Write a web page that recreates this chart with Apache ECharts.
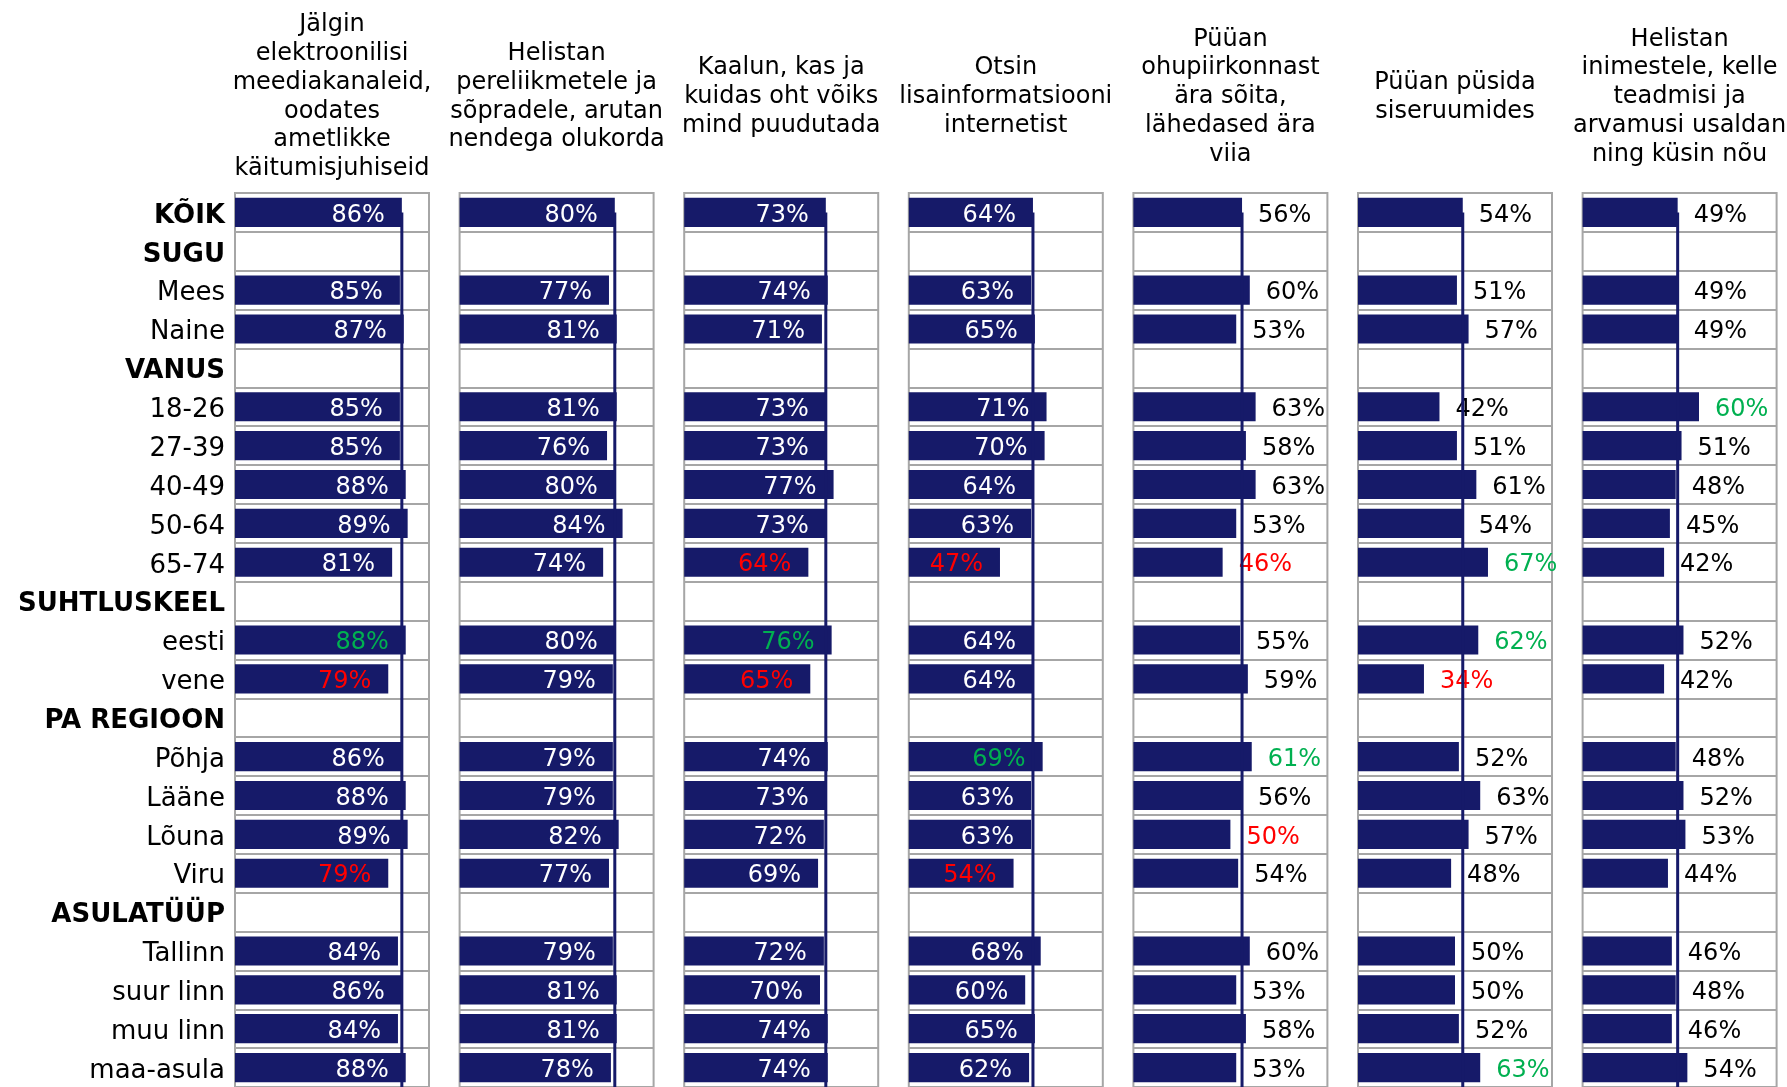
<!DOCTYPE html>
<html>
<head>
<meta charset="utf-8">
<script src="https://cdn.jsdelivr.net/npm/echarts@6/dist/echarts.min.js"></script>
<style>
html,body{margin:0;padding:0;background:#fff;}
#chart{width:1787px;height:1087px;}
</style>
</head>
<body>
<div id="chart"></div>
<script>
const rows = ['KÕIK','SUGU','Mees','Naine','VANUS','18-26','27-39','40-49','50-64','65-74','SUHTLUSKEEL','eesti','vene','PA REGIOON','Põhja','Lääne','Lõuna','Viru','ASULATÜÜP','Tallinn','suur linn','muu linn','maa-asula'];
const groupRows = ['KÕIK','SUGU','VANUS','SUHTLUSKEEL','PA REGIOON','ASULATÜÜP'];

const headers = [
  'Jälgin\nelektroonilisi\nmeediakanaleid,\noodates\nametlikke\nkäitumisjuhiseid',
  'Helistan\npereliikmetele ja\nsõpradele, arutan\nnendega olukorda',
  'Kaalun, kas ja\nkuidas oht võiks\nmind puudutada',
  'Otsin\nlisainformatsiooni\ninternetist',
  'Püüan\nohupiirkonnast\nära sõita,\nlähedased ära\nviia',
  'Püüan püsida\nsiseruumides',
  'Helistan\ninimestele, kelle\nteadmisi ja\narvamusi usaldan\nning küsin nõu'
];

const p1 = [86,null,85,87,null,85,85,88,89,81,null,88,79,null,86,88,89,79,null,84,86,84,88];
const p2 = [80,null,77,81,null,81,76,80,84,74,null,80,79,null,79,79,82,77,null,79,81,81,78];
const p3 = [73,null,74,71,null,73,73,77,73,64,null,76,65,null,74,73,72,69,null,72,70,74,74];
const p4 = [64,null,63,65,null,71,70,64,63,47,null,64,64,null,69,63,63,54,null,68,60,65,62];
const p5 = [56,null,60,53,null,63,58,63,53,46,null,55,59,null,61,56,50,54,null,60,53,58,53];
const p6 = [54,null,51,57,null,42,51,61,54,67,null,62,34,null,52,63,57,48,null,50,50,52,63];
const p7 = [49,null,49,49,null,60,51,48,45,42,null,52,42,null,48,52,53,44,null,46,48,46,54];

const higher = [['eesti'], [], ['eesti'], ['Põhja'], ['Põhja'], ['65-74','eesti','maa-asula'], ['18-26']];
const lower  = [['vene','Viru'], [], ['65-74','vene'], ['65-74','Viru'], ['65-74','Lõuna'], ['vene'], []];

const panels = [p1,p2,p3,p4,p5,p6,p7];
const labelInside = [true,true,true,true,false,false,false];

const NAVY = '#161A69';
const GRID = '#A6A6A6';
const FONT = 'DejaVu Sans';

const chart = echarts.init(document.getElementById('chart'));

const L0 = 235, STEP = 224.6, W = 194, TOP = 193, ROWH = 39;
const grids = [], xAxes = [], yAxes = [], series = [], graphics = [];

panels.forEach((vals, i) => {
  const left = L0 + STEP * i;
  grids.push({left: left, top: TOP, width: W, height: ROWH * rows.length, show: true,
    borderColor: GRID, borderWidth: 2, backgroundColor: '#fff', containLabel: false});
  xAxes.push({type: 'value', gridIndex: i, min: 0, max: 100, show: false});
  yAxes.push({type: 'category', gridIndex: i, data: rows, inverse: true,
    axisLine: {show: false}, axisTick: {show: false},
    splitLine: {show: true, lineStyle: {color: GRID, width: 2}},
    axisLabel: {show: i === 0, margin: 10, fontFamily: FONT, fontSize: 26, color: '#000',
      padding: [7, 0, 0, 0],
      formatter: v => groupRows.includes(v) ? '{b|' + v + '}' : v,
      rich: {b: {fontFamily: FONT, fontSize: 26, fontWeight: 'bold', color: '#000'}}}
  });
  const inside = labelInside[i];
  const data = vals.map((v, r) => {
    if (v == null) return null;
    let c = inside ? '#fff' : '#000';
    if (higher[i].includes(rows[r])) c = '#00B050';
    if (lower[i].includes(rows[r])) c = '#FF0000';
    return {value: v, label: {color: c}};
  });
  series.push({
    type: 'bar', xAxisIndex: i, yAxisIndex: i, data: data, barWidth: '75%', z: 2,
    itemStyle: {color: NAVY},
    label: {show: true, position: inside ? 'insideRight' : 'right', distance: inside ? 17 : 16,
      offset: [0, 3], formatter: '{c}%', fontFamily: FONT, fontSize: 24},
    animation: false
  });
  graphics.push({type: 'text', z: 10,
    style: {text: headers[i], x: left + W / 2, y: 97, align: 'center', verticalAlign: 'middle',
      font: '24px "DejaVu Sans"', fill: '#000', lineHeight: 28.8}});
});

// hidden value axes for the reference (KÕIK) lines
panels.forEach((vals, i) => {
  yAxes.push({type: 'value', gridIndex: i, min: 0, max: rows.length, inverse: true, show: false});
  series.push({
    type: 'line', xAxisIndex: i, yAxisIndex: panels.length + i, z: 5,
    data: [[vals[0], 0.5], [vals[0], rows.length]],
    symbol: 'none', lineStyle: {color: NAVY, width: 3}, animation: false, silent: true
  });
});

chart.setOption({
  animation: false,
  textStyle: {fontFamily: FONT},
  grid: grids, xAxis: xAxes, yAxis: yAxes, series: series, graphic: graphics
});
</script>
</body>
</html>
